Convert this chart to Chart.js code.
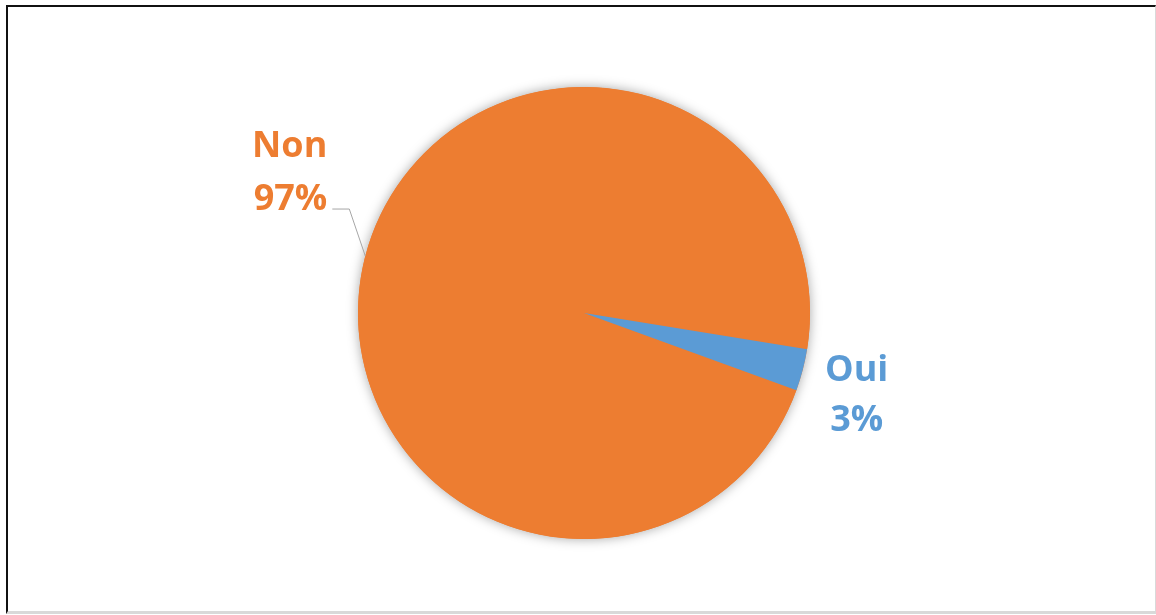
<!DOCTYPE html>
<html>
<head>
<meta charset="utf-8">
<script src="https://cdn.jsdelivr.net/npm/chart.js@4"></script>
<style>
  html, body { margin: 0; padding: 0; background: #fff; }
  #wrap { position: relative; width: 1156px; height: 615px; overflow: hidden; }
  #frame {
    position: absolute; left: 6px; top: 5px; width: 1147px; height: 604px;
    border-top: 2px solid #111; border-left: 2px solid #111;
    border-right: 1px solid #d9d9d9; border-bottom: 3px solid #d9d9d9;
    pointer-events: none;
  }
  canvas { position: absolute; left: 0; top: 0; }
</style>
</head>
<body>
<div id="wrap">
  <canvas id="pieChart" width="1156" height="615"></canvas>
  <div id="frame"></div>
</div>
<script>
// --- DATA ---
const categories = ['Non', 'Oui'];
const shares = [97, 3];
const sliceColors = ['#ED7D31', '#5B9BD5'];

// --- LABEL LAYOUT (offsets from the slice's outer edge at its mid angle) ---
const labelLayout = {
  Non: { align: 'right', dx: -38, dy: [-99, -46], leader: [[-16, -47], [-33, -47]] },
  Oui: { align: 'center', dx: 54, dy: [11, 61], leader: null }
};
const labelFont = 'bold 36px "Open Sans", "Noto Sans", sans-serif';

// soft shadow under the whole pie
const pieShadow = {
  id: 'pieShadow',
  beforeDatasetsDraw(chart) {
    const arc = chart.getDatasetMeta(0).data[0];
    if (!arc) return;
    const { x, y, outerRadius } = arc.getProps(['x', 'y', 'outerRadius'], true);
    const ctx = chart.ctx;
    ctx.save();
    ctx.shadowColor = 'rgba(0, 0, 0, 0.35)';
    ctx.shadowBlur = 12;
    ctx.beginPath();
    ctx.arc(x, y, outerRadius, 0, Math.PI * 2);
    ctx.fillStyle = sliceColors[0];
    ctx.fill();
    ctx.restore();
  }
};

// category + percent labels outside the slices
const sliceLabels = {
  id: 'sliceLabels',
  afterDatasetsDraw(chart) {
    const ctx = chart.ctx;
    const meta = chart.getDatasetMeta(0);
    const total = shares.reduce((a, b) => a + b, 0);
    meta.data.forEach((arc, i) => {
      const p = arc.getProps(['x', 'y', 'startAngle', 'endAngle', 'outerRadius'], true);
      const mid = (p.startAngle + p.endAngle) / 2;
      const ex = p.x + Math.cos(mid) * p.outerRadius;
      const ey = p.y + Math.sin(mid) * p.outerRadius;
      const lay = labelLayout[categories[i]];

      ctx.save();
      if (lay.leader) {
        ctx.strokeStyle = '#a6a6a6';
        ctx.lineWidth = 1;
        ctx.beginPath();
        ctx.moveTo(ex, ey);
        lay.leader.forEach(pt => ctx.lineTo(ex + pt[0], ey + pt[1]));
        ctx.stroke();
      }
      ctx.fillStyle = sliceColors[i];
      ctx.font = labelFont;
      ctx.textAlign = lay.align;
      ctx.textBaseline = 'alphabetic';
      const pct = Math.round(shares[i] / total * 100) + '%';
      ctx.fillText(categories[i], ex + lay.dx, ey + lay.dy[0]);
      ctx.fillText(pct, ex + lay.dx, ey + lay.dy[1]);
      ctx.restore();
    });
  }
};

// --- PIE CHART ---
const ctx = document.getElementById('pieChart').getContext('2d');
new Chart(ctx, {
  type: 'pie',
  data: {
    labels: categories,
    datasets: [{
      data: shares,
      backgroundColor: sliceColors,
      borderWidth: 0
    }]
  },
  options: {
    responsive: false,
    animation: false,
    rotation: 110,
    layout: { padding: { top: 87, bottom: 76, left: 234, right: 222 } },
    plugins: {
      legend: { display: false },
      tooltip: { enabled: false }
    }
  },
  plugins: [pieShadow, sliceLabels]
});
</script>
</body>
</html>
